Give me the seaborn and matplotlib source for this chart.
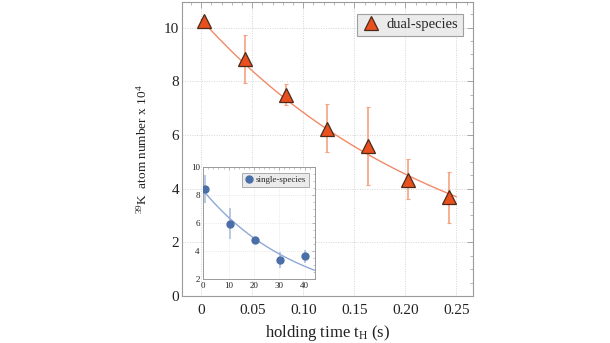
import numpy as np
import pandas as pd
import matplotlib
matplotlib.use("Agg")
import matplotlib.pyplot as plt
from matplotlib.ticker import MultipleLocator
import seaborn as sns

# Dual-species measurement (main panel)
hold_time = [0.003, 0.043, 0.083, 0.123, 0.163, 0.203, 0.243]
atom_number = [10.26, 8.82, 7.48, 6.21, 5.57, 4.32, 3.68]
err_low = [10.26, 7.95, 7.13, 5.35, 4.15, 3.60, 2.73]
err_high = [10.26, 9.71, 7.90, 7.14, 7.03, 5.09, 4.63]
dual_fit_n0 = 10.30
dual_fit_tau = 0.244

# Single-species measurement (inset), time in ms
single_time = [0.7, 10.5, 20.5, 30.4, 40.3]
single_number = [8.40, 5.93, 4.79, 3.35, 3.63]
single_low = [7.42, 4.84, 4.79, 2.81, 3.16]
single_high = [9.44, 7.05, 4.79, 3.91, 4.10]
single_fit_n0 = 8.30
single_fit_tau = 38.3

x_ticks = [0, 0.05, 0.10, 0.15, 0.20, 0.25]
x_labels = ["0", "0.05", "0.10", "0.15", "0.20", "0.25"]
y_ticks = [0, 2, 4, 6, 8, 10]

sns.set_theme(style="white")
plt.rcParams["font.family"] = ["Liberation Serif", "DejaVu Serif"]
plt.rcParams["mathtext.fontset"] = "custom"
plt.rcParams["mathtext.rm"] = "Liberation Serif"
plt.rcParams["mathtext.it"] = "Liberation Serif:italic"

orange = "#e8501e"
orange_light = "#f5a283"
orange_line = "#f28a68"
blue = "#4a6fa8"
blue_light = "#a7bbdc"
blue_line = "#8ea8d8"
frame = "#9a9a9a"

fig = plt.figure(figsize=(6.10, 3.43), dpi=100)
ax = fig.add_axes([0.298, 0.137, 0.477, 0.857])

dual = pd.DataFrame({"t": hold_time, "n": atom_number})
t_fit = np.linspace(0, 0.25, 200)
dual_curve = pd.DataFrame({"t": t_fit, "n": dual_fit_n0 * np.exp(-t_fit / dual_fit_tau)})

ax.errorbar(hold_time, atom_number,
            yerr=[np.array(atom_number) - np.array(err_low),
                  np.array(err_high) - np.array(atom_number)],
            fmt="none", ecolor=orange_light, elinewidth=1.2, capsize=1.5,
            capthick=0.8, zorder=2)
sns.lineplot(data=dual_curve, x="t", y="n", ax=ax, color=orange_line,
             lw=1.0, zorder=3)
ax.plot(hold_time, atom_number, linestyle="none", marker="^", ms=10.5,
        mfc=orange, mec="#4a2a1a", mew=0.9, zorder=4, label="dual-species")

ax.set_xlim(-0.019, 0.266)
ax.set_ylim(0, 10.95)
ax.set_xticks(x_ticks)
ax.set_xticklabels(x_labels)
ax.set_yticks(y_ticks)
ax.xaxis.set_minor_locator(MultipleLocator(0.01))
ax.yaxis.set_minor_locator(MultipleLocator(0.5))
ax.grid(True, which="major", color="#d4d4d4", linestyle=(0, (1, 1.5)), lw=0.7)
ax.tick_params(axis="both", which="both", direction="in", top=True,
               right=True, colors=frame, labelcolor="#222222", labelsize=11)
ax.tick_params(which="major", length=4, width=0.6)
ax.tick_params(which="minor", length=2, width=0.5)
ax.tick_params(axis="x", pad=6)
ax.tick_params(axis="y", pad=2)
for sp in ax.spines.values():
    sp.set_color(frame)
    sp.set_linewidth(0.8)
ax.set_xlabel(r"holding time t$_\mathrm{H}$ (s)", fontsize=12,
              color="#222222", labelpad=4)
ax.set_ylabel(r"$^{39}$K  atom number x 10$^{\,4}$", fontsize=9.5,
              color="#222222", labelpad=10)
leg = ax.legend(loc="upper right", bbox_to_anchor=(0.99, 0.985),
                fontsize=10.5, frameon=True, fancybox=False,
                handletextpad=0.5, borderpad=0.3, handlelength=1.2)
leg.get_frame().set_facecolor("#e6e6e6")
leg.get_frame().set_edgecolor("#8a8a8a")
leg.get_frame().set_linewidth(0.8)

# Inset with the single-species data
ins = fig.add_axes([0.332, 0.186, 0.184, 0.328])
ins.set_facecolor("white")
s_fit = np.linspace(0, 44, 200)
single_curve = pd.DataFrame({"t": s_fit,
                             "n": single_fit_n0 * np.exp(-s_fit / single_fit_tau)})
ins.errorbar(single_time, single_number,
             yerr=[np.array(single_number) - np.array(single_low),
                   np.array(single_high) - np.array(single_number)],
             fmt="none", ecolor=blue_light, elinewidth=1.1, capsize=0, zorder=2)
sns.lineplot(data=single_curve, x="t", y="n", ax=ins, color=blue_line,
             lw=1.0, zorder=3)
ins.plot(single_time, single_number, linestyle="none", marker="o", ms=5,
         mfc=blue, mec=blue, zorder=4, label="single-species")
ins.set_xlim(-0.3, 44)
ins.set_ylim(2, 10)
ins.set_xticks([0, 10, 20, 30, 40])
ins.set_yticks([2, 4, 6, 8, 10])
ins.xaxis.set_minor_locator(MultipleLocator(2))
ins.yaxis.set_minor_locator(MultipleLocator(0.5))
ins.grid(True, which="major", color="#e2e2e2", linestyle=(0, (1, 1.5)), lw=0.6)
ins.tick_params(axis="both", which="both", direction="in", top=True,
                right=True, colors=frame, labelcolor="#222222", labelsize=6.5,
                pad=2)
ins.tick_params(which="major", length=2.5, width=0.5)
ins.tick_params(which="minor", length=1.2, width=0.4)
for sp in ins.spines.values():
    sp.set_color(frame)
    sp.set_linewidth(0.7)
ins.set_xlabel("")
ins.set_ylabel("")
ileg = ins.legend(loc="upper right", bbox_to_anchor=(0.985, 0.985),
                  fontsize=6.5, frameon=True, fancybox=False,
                  handletextpad=0.3, borderpad=0.3, handlelength=0.9)
ileg.get_frame().set_facecolor("#e6e6e6")
ileg.get_frame().set_edgecolor("#8a8a8a")
ileg.get_frame().set_linewidth(0.6)

fig.savefig("out.png", dpi=100)
